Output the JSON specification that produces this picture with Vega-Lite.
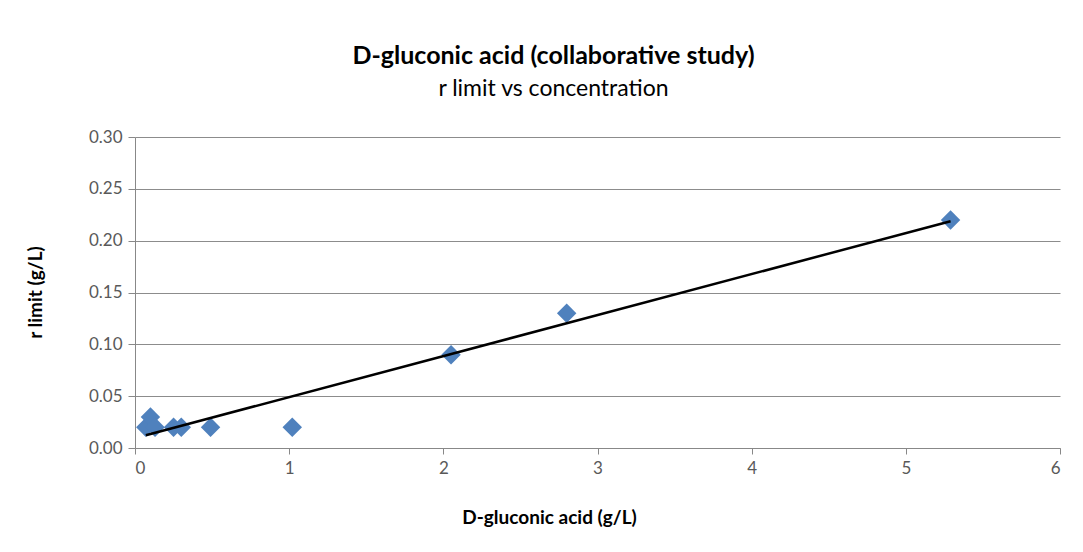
{
  "$schema": "https://vega.github.io/schema/vega-lite/v6.json",
  "width": 925,
  "height": 311,
  "autosize": {"type": "none"},
  "padding": {"left": 135, "top": 137, "right": 23, "bottom": 104},
  "background": "white",
  "title": {
    "text": "D-gluconic acid (collaborative study)",
    "subtitle": "r limit vs concentration",
    "anchor": "middle",
    "dx": -44,
    "offset": 27,
    "font": "Lato",
    "fontSize": 25,
    "fontWeight": "bold",
    "color": "#000000",
    "subtitleFont": "Lato",
    "subtitleFontSize": 23,
    "subtitleColor": "#000000",
    "subtitlePadding": 9
  },
  "data": {
    "values": [
      {"conc": 0.07, "rlimit": 0.02},
      {"conc": 0.10, "rlimit": 0.03},
      {"conc": 0.13, "rlimit": 0.02},
      {"conc": 0.25, "rlimit": 0.02},
      {"conc": 0.30, "rlimit": 0.02},
      {"conc": 0.49, "rlimit": 0.02},
      {"conc": 1.02, "rlimit": 0.02},
      {"conc": 2.05, "rlimit": 0.09},
      {"conc": 2.80, "rlimit": 0.13},
      {"conc": 5.29, "rlimit": 0.22}
    ]
  },
  "layer": [
    {
      "mark": {"type": "point", "shape": "diamond", "filled": true, "size": 380, "color": "#4F81BD", "opacity": 1},
      "encoding": {
        "x": {
          "field": "conc", "type": "quantitative",
          "scale": {"domain": [0, 6], "nice": false, "zero": true},
          "axis": {
            "title": "D-gluconic acid (g/L)",
            "values": [0, 1, 2, 3, 4, 5, 6],
            "format": "d",
            "grid": false,
            "domainColor": "#888888",
            "tickColor": "#888888",
            "tickSize": 6,
            "labelFont": "Lato",
            "labelFontSize": 17,
            "labelColor": "#595959",
            "labelPadding": 6,
            "titleFont": "Lato",
            "titleFontSize": 19,
            "titleFontWeight": "bold",
            "titleColor": "#000000",
            "titleBaseline": "middle",
            "titleX": 414,
            "titleY": 69
          }
        },
        "y": {
          "field": "rlimit", "type": "quantitative",
          "scale": {"domain": [0, 0.3], "nice": false},
          "axis": {
            "title": "r limit (g/L)",
            "values": [0, 0.05, 0.1, 0.15, 0.2, 0.25, 0.3],
            "format": ".2f",
            "grid": true,
            "gridColor": "#8c8c8c",
            "gridWidth": 1,
            "domainColor": "#888888",
            "tickColor": "#888888",
            "tickSize": 7,
            "labelFont": "Lato",
            "labelFontSize": 17,
            "labelColor": "#595959",
            "labelPadding": 6,
            "titleFont": "Lato",
            "titleFontSize": 19,
            "titleFontWeight": "bold",
            "titleColor": "#000000",
            "titleBaseline": "middle",
            "titleX": -100,
            "titleY": 155
          }
        }
      }
    },
    {
      "transform": [{"regression": "rlimit", "on": "conc"}],
      "mark": {"type": "line", "color": "#000000", "strokeWidth": 2.5},
      "encoding": {
        "x": {"field": "conc", "type": "quantitative"},
        "y": {"field": "rlimit", "type": "quantitative"}
      }
    }
  ],
  "config": {
    "view": {"stroke": null}
  }
}
